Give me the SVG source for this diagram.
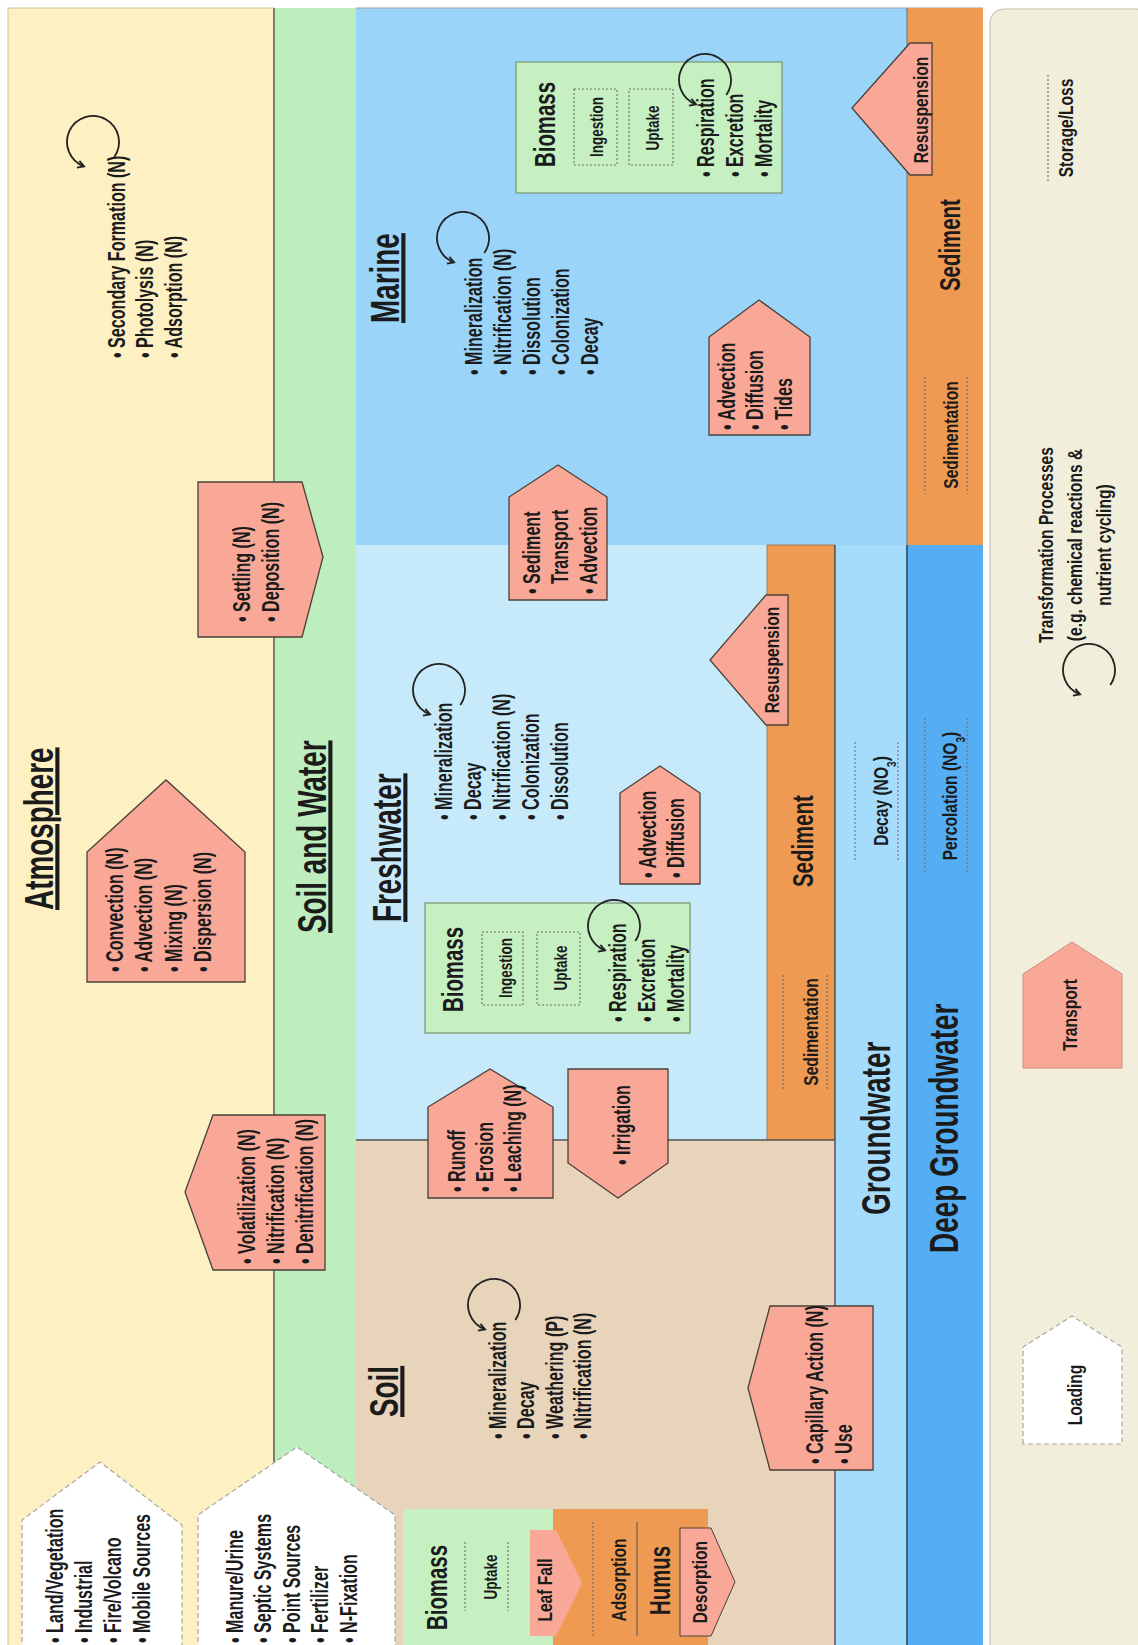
<svg xmlns="http://www.w3.org/2000/svg" xmlns:xlink="http://www.w3.org/1999/xlink" width="1138" height="1645" viewBox="0 0 1138 1645">
<style>
.t{font-family:"Liberation Sans",Arial,sans-serif;font-weight:bold;fill:#1b1b1b}
.ti{font-size:41px}
.md{font-size:30px}
.bd{font-size:23px}
.sm{font-size:20px;text-anchor:middle}
.xs{font-size:18px;text-anchor:middle}
.ul{text-decoration:underline}
.tr{fill:#F9A898;stroke:#4a403a;stroke-width:1.3}
.ld{fill:#ffffff;stroke:#a8a8a0;stroke-width:1.2;stroke-dasharray:5 3}
.bio{fill:#C7F0C2;stroke:#7d9a7a;stroke-width:1.3}
.dot{fill:none;stroke:#6f6f6f;stroke-width:1.1;stroke-dasharray:2 2}
.bl{stroke-width:1.6;fill:none}
</style>
<defs>
<marker id="ah" viewBox="0 0 10 10" refX="8" refY="5" markerWidth="5" markerHeight="5" orient="auto">
<path d="M1,1 L8,5 L1,9" fill="none" stroke="#222" stroke-width="2"/>
</marker>
<path id="cyc" d="M 21.3 14.9 A 26 26 0 1 0 -8.9 24.4" fill="none" stroke="#222" stroke-width="1.8" marker-end="url(#ah)"/>
</defs>
<rect width="1138" height="1645" fill="#ffffff"/>

<g id="atmosphere">
<rect x="8" y="8" width="266" height="1640" fill="#FDF0C2" stroke="#cdbf95" stroke-width="1"/>
<text class="t ti ul" transform="translate(53,910) rotate(-90) scale(0.68,1)">Atmosphere</text>
<text class="t bd" transform="translate(125,358) rotate(-90) scale(0.7,1)"><tspan x="0" dy="0">• Secondary Formation (N)</tspan><tspan x="0" dy="28.5">• Photolysis (N)</tspan><tspan x="0" dy="28.5">• Adsorption (N)</tspan></text>
</g>

<g id="soil-and-water">
<rect x="274" y="8" width="82" height="1500" fill="#BEEDBE"/>
<line x1="274" y1="8" x2="274" y2="1462" stroke="#5d6b55" stroke-width="1.6"/>
<text class="t ti ul" transform="translate(326,933) rotate(-90) scale(0.68,1)">Soil and Water</text>
</g>

<g id="marine">
<rect x="356" y="8" width="551" height="537" fill="#9AD4F9"/>
<line x1="356" y1="8" x2="983" y2="8" stroke="#9aa4ad" stroke-width="1.2"/>
<text class="t ti ul" transform="translate(399,323) rotate(-90) scale(0.68,1)">Marine</text>
<text class="t bd" transform="translate(482,375) rotate(-90) scale(0.7,1)"><tspan x="0" dy="0">• Mineralization</tspan><tspan x="0" dy="29">• Nitrification (N)</tspan><tspan x="0" dy="29">• Dissolution</tspan><tspan x="0" dy="29">• Colonization</tspan><tspan x="0" dy="29">• Decay</tspan></text>
</g>

<g id="marine-biomass">
<rect class="bio" x="516" y="62" width="266" height="131"/>
<text class="t md" transform="translate(555,167) rotate(-90) scale(0.68,1)">Biomass</text>
<rect class="dot" x="574" y="89" width="43" height="76"/>
<text class="t xs" transform="translate(603,127) rotate(-90) scale(0.75,1)">Ingestion</text>
<rect class="dot" x="629" y="89" width="44" height="76"/>
<text class="t xs" transform="translate(659,128) rotate(-90) scale(0.75,1)">Uptake</text>
<text class="t bd" transform="translate(714,177) rotate(-90) scale(0.7,1)"><tspan x="0" dy="0">• Respiration</tspan><tspan x="0" dy="29">• Excretion</tspan><tspan x="0" dy="29">• Mortality</tspan></text>
</g>

<g id="marine-advection">
<polygon class="tr" points="709,435 709,337 759,300 810,337 810,435"/>
<text class="t bd" transform="translate(735,430) rotate(-90) scale(0.7,1)"><tspan x="0" dy="0">• Advection</tspan><tspan x="0" dy="28.5">• Diffusion</tspan><tspan x="0" dy="28.5">• Tides</tspan></text>
</g>

<g id="marine-sediment">
<rect x="907" y="8" width="76" height="537" fill="#EF9A52"/>
<line x1="907" y1="8" x2="907" y2="545" stroke="#6e7f8f" stroke-width="1.2"/>
<text class="t md" transform="translate(960,291) rotate(-90) scale(0.68,1)">Sediment</text>
<line class="dot" x1="925" y1="377" x2="925" y2="494"/>
<line class="dot" x1="967" y1="377" x2="967" y2="494"/>
<text class="t sm" transform="translate(958,435) rotate(-90) scale(0.78,1)">Sedimentation</text>
</g>

<g id="marine-resuspension">
<polygon class="tr" points="932,43 910,43 852,108 910,175 932,175"/>
<text class="t sm" transform="translate(928,110) rotate(-90) scale(0.78,1)">Resuspension</text>
</g>

<g id="freshwater">
<rect x="356" y="545" width="411" height="595" fill="#C7EAFB"/>
<text class="t ti ul" transform="translate(401,922) rotate(-90) scale(0.68,1)">Freshwater</text>
<text class="t bd" transform="translate(452,820) rotate(-90) scale(0.7,1)"><tspan x="0" dy="0">• Mineralization</tspan><tspan x="0" dy="29">• Decay</tspan><tspan x="0" dy="29">• Nitrification (N)</tspan><tspan x="0" dy="29">• Colonization</tspan><tspan x="0" dy="29">• Dissolution</tspan></text>
</g>

<g id="freshwater-biomass">
<rect class="bio" x="425" y="903" width="265" height="130"/>
<text class="t md" transform="translate(463,1012) rotate(-90) scale(0.68,1)">Biomass</text>
<rect class="dot" x="482" y="932" width="41" height="73"/>
<text class="t xs" transform="translate(512,968) rotate(-90) scale(0.75,1)">Ingestion</text>
<rect class="dot" x="537" y="932" width="43" height="73"/>
<text class="t xs" transform="translate(567,968) rotate(-90) scale(0.75,1)">Uptake</text>
<text class="t bd" transform="translate(626,1022) rotate(-90) scale(0.7,1)"><tspan x="0" dy="0">• Respiration</tspan><tspan x="0" dy="29">• Excretion</tspan><tspan x="0" dy="29">• Mortality</tspan></text>
</g>

<g id="freshwater-advection">
<polygon class="tr" points="620,884 620,793 660,766 700,793 700,884"/>
<text class="t bd" transform="translate(656,878) rotate(-90) scale(0.7,1)"><tspan x="0" dy="0">• Advection</tspan><tspan x="0" dy="28">• Diffusion</tspan></text>
</g>

<g id="freshwater-sediment">
<rect x="767" y="545" width="68" height="595" fill="#EF9A52" stroke="#a0683a" stroke-width="0.8"/>
<text class="t md" transform="translate(813,887) rotate(-90) scale(0.68,1)">Sediment</text>
<line class="dot" x1="783" y1="975" x2="783" y2="1090"/>
<line class="dot" x1="827" y1="975" x2="827" y2="1090"/>
<text class="t sm" transform="translate(818,1032) rotate(-90) scale(0.78,1)">Sedimentation</text>
</g>

<g id="freshwater-resuspension">
<polygon class="tr" points="788,595 766,595 710,660 766,725 788,725"/>
<text class="t sm" transform="translate(779,660) rotate(-90) scale(0.78,1)">Resuspension</text>
</g>

<g id="sediment-transport">
<polygon class="tr" points="509,600 509,497 558,465 607,497 607,600"/>
<text class="t bd" transform="translate(540,594) rotate(-90) scale(0.7,1)"><tspan x="0" dy="0">• Sediment</tspan><tspan x="14.4" dy="28.5">Transport</tspan><tspan x="0" dy="28.5">• Advection</tspan></text>
</g>

<g id="soil">
<rect x="356" y="1140" width="479" height="505" fill="#E8D4BA"/>
<line x1="356" y1="1140" x2="835" y2="1140" stroke="#555" stroke-width="1.5"/>
<text class="t ti ul" transform="translate(398,1417) rotate(-90) scale(0.68,1)">Soil</text>
<text class="t bd" transform="translate(506,1439) rotate(-90) scale(0.7,1)"><tspan x="0" dy="0">• Mineralization</tspan><tspan x="0" dy="28.5">• Decay</tspan><tspan x="0" dy="28.5">• Weathering (P)</tspan><tspan x="0" dy="28.5">• Nitrification (N)</tspan></text>
</g>

<g id="groundwater">
<rect x="835" y="545" width="72" height="1100" fill="#A5DCFB"/>
<line x1="835" y1="545" x2="835" y2="1645" stroke="#555" stroke-width="1.5"/>
<text class="t ti" transform="translate(890,1215) rotate(-90) scale(0.68,1)">Groundwater</text>
<line class="dot" x1="855" y1="742" x2="855" y2="860"/>
<line class="dot" x1="898" y1="742" x2="898" y2="860"/>
<text class="t sm" transform="translate(888,801) rotate(-90) scale(0.78,1)">Decay (NO<tspan font-size="13" baseline-shift="sub">3</tspan>)</text>
</g>

<g id="deep-groundwater">
<rect x="907" y="545" width="76" height="1100" fill="#55AEF4"/>
<line x1="907" y1="545" x2="907" y2="1645" stroke="#2d4b66" stroke-width="1.6"/>
<text class="t ti" transform="translate(958,1253) rotate(-90) scale(0.68,1)">Deep Groundwater</text>
<line class="dot" x1="925" y1="718" x2="925" y2="874" stroke="#333"/>
<line class="dot" x1="967" y1="718" x2="967" y2="874" stroke="#333"/>
<text class="t sm" transform="translate(957,796) rotate(-90) scale(0.78,1)">Percolation (NO<tspan font-size="13" baseline-shift="sub">3</tspan>)</text>
</g>

<g id="soil-biomass">
<rect x="403" y="1509" width="150" height="140" fill="#C7F0C2"/>
<text class="t md" transform="translate(447,1630) rotate(-90) scale(0.68,1)">Biomass</text>
<line class="dot" x1="465" y1="1542" x2="465" y2="1611"/>
<line class="dot" x1="508" y1="1542" x2="508" y2="1611"/>
<text class="t xs" transform="translate(497,1577) rotate(-90) scale(0.75,1)">Uptake</text>
</g>

<g id="humus">
<rect x="553" y="1509" width="155" height="140" fill="#EF9A52"/>
<line class="dot" x1="593" y1="1522" x2="593" y2="1636"/>
<line x1="637" y1="1522" x2="637" y2="1636" stroke="#555" stroke-width="1"/>
<text class="t sm" transform="translate(626,1580) rotate(-90) scale(0.78,1)">Adsorption</text>
<text class="t md" transform="translate(670,1615) rotate(-90) scale(0.68,1)">Humus</text>
</g>

<g id="leaf-fall">
<polygon fill="#F9A898" points="530,1530 556,1530 582,1583 556,1636 530,1636"/>
<text class="t sm" transform="translate(552,1590) rotate(-90) scale(0.78,1)">Leaf Fall</text>
</g>

<g id="desorption">
<polygon fill="#F9A898" stroke="#4a403a" stroke-width="1" points="680,1528 711,1528 735,1582 711,1636 680,1636"/>
<text class="t sm" transform="translate(707,1582) rotate(-90) scale(0.78,1)">Desorption</text>
</g>

<g id="air-sources">
<polygon class="ld" points="22,1650 22,1520 100,1462 182,1525 182,1650"/>
<text class="t bd" transform="translate(63,1643) rotate(-90) scale(0.7,1)"><tspan x="0" dy="0">• Land/Vegetation</tspan><tspan x="0" dy="29">• Industrial</tspan><tspan x="0" dy="29">• Fire/Volcano</tspan><tspan x="0" dy="29">• Mobile Sources</tspan></text>
</g>

<g id="land-sources">
<polygon class="ld" points="198,1650 198,1515 297,1447 395,1515 395,1650"/>
<text class="t bd" transform="translate(243,1643) rotate(-90) scale(0.7,1)"><tspan x="0" dy="0">• Manure/Urine</tspan><tspan x="0" dy="28.5">• Septic Systems</tspan><tspan x="0" dy="28.5">• Point Sources</tspan><tspan x="0" dy="28.5">• Fertilizer</tspan><tspan x="0" dy="28.5">• N-Fixation</tspan></text>
</g>

<g id="convection">
<polygon class="tr" points="87,982 87,852 166,780 245,852 245,982"/>
<text class="t bd" transform="translate(123,972) rotate(-90) scale(0.7,1)"><tspan x="0" dy="0">• Convection (N)</tspan><tspan x="0" dy="29.5">• Advection (N)</tspan><tspan x="0" dy="29.5">• Mixing (N)</tspan><tspan x="0" dy="29.5">• Dispersion (N)</tspan></text>
</g>

<g id="settling">
<polygon class="tr" points="198,482 302,482 323,557 302,637 198,637"/>
<text class="t bd" transform="translate(250,622) rotate(-90) scale(0.7,1)"><tspan x="0" dy="0">• Settling (N)</tspan><tspan x="0" dy="29">• Deposition (N)</tspan></text>
</g>

<g id="volatilization">
<polygon class="tr" points="325,1115 213,1115 185,1192 213,1270 325,1270"/>
<text class="t bd" transform="translate(255,1264) rotate(-90) scale(0.7,1)"><tspan x="0" dy="0">• Volatilization (N)</tspan><tspan x="0" dy="29">• Nitrification (N)</tspan><tspan x="0" dy="29">• Denitrification (N)</tspan></text>
</g>

<g id="runoff">
<polygon class="tr" points="428,1198 428,1107 490,1069 553,1107 553,1198"/>
<text class="t bd" transform="translate(465,1192) rotate(-90) scale(0.7,1)"><tspan x="0" dy="0">• Runoff</tspan><tspan x="0" dy="28">• Erosion</tspan><tspan x="0" dy="28">• Leaching (N)</tspan></text>
</g>

<g id="irrigation">
<polygon class="tr" points="568,1069 668,1069 668,1163 618,1198 568,1163"/>
<text class="t bd" transform="translate(630,1165) rotate(-90) scale(0.7,1)">• Irrigation</text>
</g>

<g id="capillary">
<polygon class="tr" points="873,1306 770,1306 748,1388 770,1470 873,1470"/>
<text class="t bd" transform="translate(823,1464) rotate(-90) scale(0.7,1)"><tspan x="0" dy="0">• Capillary Action (N)</tspan><tspan x="0" dy="29">• Use</tspan></text>
</g>

<g id="legend">
<rect x="990" y="9" width="160" height="1650" rx="14" fill="#F1EFDB" stroke="#c4c2b0" stroke-width="1.2"/>
<line class="dot" x1="1048" y1="75" x2="1048" y2="182"/>
<text class="t sm" transform="translate(1073,128) rotate(-90) scale(0.78,1)">Storage/Loss</text>
<text class="t sm" transform="translate(1053,545) rotate(-90) scale(0.78,1)"><tspan x="0" dy="0">Transformation Processes</tspan><tspan x="0" dy="29">(e.g. chemical reactions &amp;</tspan><tspan x="0" dy="29">nutrient cycling)</tspan></text>
<polygon fill="#F9A898" stroke="#d08c80" stroke-width="1" points="1023,1068 1023,974 1072,942 1122,974 1122,1068"/>
<text class="t sm" transform="translate(1077,1015) rotate(-90) scale(0.78,1)">Transport</text>
<polygon class="ld" points="1023,1444 1023,1347 1072,1316 1122,1347 1122,1444"/>
<text class="t sm" transform="translate(1082,1395) rotate(-90) scale(0.78,1)">Loading</text>
</g>

<g id="cycles">
<use xlink:href="#cyc" href="#cyc" transform="translate(93,142)"/>
<use xlink:href="#cyc" href="#cyc" transform="translate(463,238)"/>
<use xlink:href="#cyc" href="#cyc" transform="translate(705,80)"/>
<use xlink:href="#cyc" href="#cyc" transform="translate(439,690)"/>
<use xlink:href="#cyc" href="#cyc" transform="translate(614,926)"/>
<use xlink:href="#cyc" href="#cyc" transform="translate(494,1305)"/>
<use xlink:href="#cyc" href="#cyc" transform="translate(1089,670)"/>
</g>
</svg>
